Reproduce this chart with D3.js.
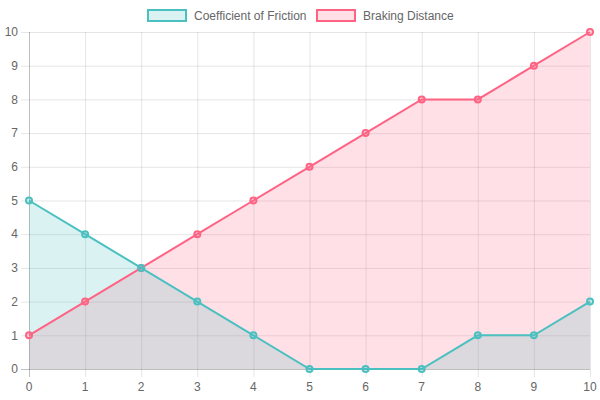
<!DOCTYPE html>
<html lang="en">
<head>
  <meta charset="UTF-8" />
  <title>Friction vs Braking</title>
  <script src="https://cdn.jsdelivr.net/npm/d3@7"></script>
  <style>
    body { margin: 0; background: #fff; }
    svg { font-family: "Liberation Sans", Arial, sans-serif; }
  </style>
</head>
<body>
  <svg id="chart" width="600" height="400"></svg>
  <script>
    // data
    let xValues = [0, 1, 2, 3, 4, 5, 6, 7, 8, 9, 10];
    let friction = [5, 4, 3, 2, 1, 0, 0, 0, 1, 1, 2];
    let braking = [1, 2, 3, 4, 5, 6, 7, 8, 8, 9, 10];
    let seriesNames = ["Coefficient of Friction", "Braking Distance"];

    let svg = d3.select("#chart");
    let plotLeft = 29, plotRight = 590, plotTop = 32, plotBottom = 369;

    let x = d3.scaleLinear().domain([0, 10]).range([plotLeft, plotRight]);
    let y = d3.scaleLinear().domain([0, 10]).range([plotBottom, plotTop]);

    // grid
    let grid = svg.append("g");
    grid.selectAll(".gx")
      .data(x.ticks(10))
      .enter()
      .append("line")
      .attr("x1", d => x(d) + 0.5)
      .attr("x2", d => x(d) + 0.5)
      .attr("y1", plotTop)
      .attr("y2", plotBottom + 8)
      .attr("stroke", d => d === 0 ? "rgba(0,0,0,0.25)" : "rgba(0,0,0,0.1)");
    grid.selectAll(".gy")
      .data(y.ticks(10))
      .enter()
      .append("line")
      .attr("x1", plotLeft - 8)
      .attr("x2", plotRight)
      .attr("y1", d => y(d) + 0.5)
      .attr("y2", d => y(d) + 0.5)
      .attr("stroke", d => d === 0 ? "rgba(0,0,0,0.25)" : "rgba(0,0,0,0.1)");

    // tick labels
    svg.append("g").selectAll("text")
      .data(y.ticks(10))
      .enter()
      .append("text")
      .attr("x", plotLeft - 11)
      .attr("y", d => y(d))
      .attr("dy", "0.35em")
      .attr("text-anchor", "end")
      .attr("fill", "#666")
      .style("font-size", "12px")
      .text(d => d);
    svg.append("g").selectAll("text")
      .data(x.ticks(10))
      .enter()
      .append("text")
      .attr("x", d => x(d))
      .attr("y", plotBottom + 22)
      .attr("text-anchor", "middle")
      .attr("fill", "#666")
      .style("font-size", "12px")
      .text(d => d);

    let series = [
      { name: seriesNames[1], values: braking, color: "rgb(255,99,132)", fill: "rgba(255,99,132,0.2)" },
      { name: seriesNames[0], values: friction, color: "rgb(75,192,192)", fill: "rgba(75,192,192,0.2)" }
    ];

    let area = d3.area()
      .x((d, i) => x(xValues[i]))
      .y0(y(0))
      .y1(d => y(d));
    let line = d3.line()
      .x((d, i) => x(xValues[i]))
      .y(d => y(d));

    series.forEach(s => {
      svg.append("path")
        .attr("d", area(s.values))
        .attr("fill", s.fill);
    });
    series.forEach(s => {
      svg.append("path")
        .attr("d", line(s.values))
        .attr("fill", "none")
        .attr("stroke", s.color)
        .attr("stroke-width", 2);
      svg.append("g").selectAll("circle")
        .data(s.values)
        .enter()
        .append("circle")
        .attr("cx", (d, i) => x(xValues[i]))
        .attr("cy", d => y(d))
        .attr("r", 3)
        .attr("fill", s.fill)
        .attr("stroke", s.color)
        .attr("stroke-width", 2);
    });

    // legend
    let legend = [
      { name: seriesNames[0], color: "rgb(75,192,192)", fill: "rgba(75,192,192,0.2)", x: 148 },
      { name: seriesNames[1], color: "rgb(255,99,132)", fill: "rgba(255,99,132,0.2)", x: 317 }
    ];
    legend.forEach(l => {
      svg.append("rect")
        .attr("x", l.x)
        .attr("y", 10)
        .attr("width", 38)
        .attr("height", 11)
        .attr("fill", l.fill)
        .attr("stroke", l.color)
        .attr("stroke-width", 2);
      svg.append("text")
        .attr("x", l.x + 46)
        .attr("y", 16)
        .attr("dy", "0.35em")
        .attr("fill", "#666")
        .style("font-size", "12px")
        .text(l.name);
    });
  </script>
</body>
</html>
